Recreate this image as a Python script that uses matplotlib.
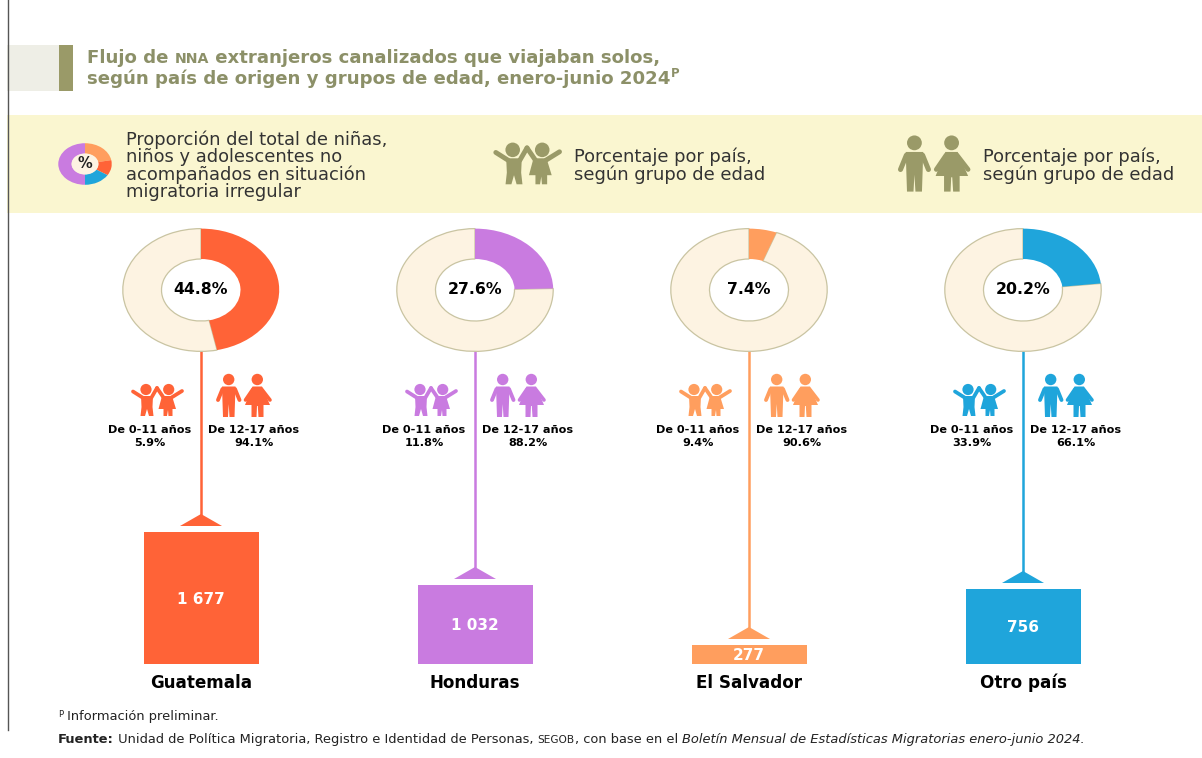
import matplotlib
matplotlib.use('Agg')
import matplotlib.pyplot as plt
from matplotlib.patches import Circle, Polygon, Rectangle

W = 1202
H = 758

paises = ['Guatemala', 'Honduras', 'El Salvador', 'Otro país']
proporcion = ['44.8%', '27.6%', '7.4%', '20.2%']
# lo que abarca cada arco en la lamina (no coincide con la etiqueta)
arco_dibujado = [46.7, 24.6, 5.7, 23.3]
etiquetas_total = ['1 677', '1 032', '277', '756']
# altura dibujada de cada barra en la lamina, no es proporcional a la etiqueta
altura_barra = [132, 79, 19, 75]
pct_0_11 = ['5.9%', '11.8%', '9.4%', '33.9%']
pct_12_17 = ['94.1%', '88.2%', '90.6%', '66.1%']
# el icono de % de la leyenda
icono_pct = [22, 12, 16, 50]

colores = ['#FF6337', '#C97BE0', '#FF9E5E', '#1FA5DB']
icono_colores = ['#FF9E5E', '#FF6337', '#1FA5DB', '#C97BE0']
crema = '#FDF3E2'
banda = '#FAF6D0'
olivo = '#9A9A68'
titulo_color = '#8C9068'
texto_color = '#333333'

plt.rcParams['font.family'] = ['DejaVu Sans']

fig = plt.figure(figsize=(W / 100, H / 100), dpi=100)
ax = fig.add_axes([0, 0, 1, 1])


def py(y):
    return H - y


def dona(cx, cy, rx, ry, valores, cols, ancho):
    # la lamina original esta estirada en horizontal, por eso rx y ry son distintos
    a = fig.add_axes([(cx - rx) / W, (py(cy) - ry) / H, 2 * rx / W, 2 * ry / H])
    wedges, _ = a.pie(valores, colors=cols, radius=0.99, startangle=90, counterclock=False,
                      wedgeprops={'width': ancho, 'linewidth': 0})
    a.set_xlim(-1, 1)
    a.set_ylim(-1, 1)
    a.set_aspect('auto')
    a.axis('off')
    return a, wedges


def nino(cx, top, s, color):
    # pareja de ninos con las manos arriba, cx es el centro entre los dos
    def p(dx, dy):
        return (cx + dx * s, py(top + dy * s))

    for hx in (-11, 11.7):
        ax.add_patch(Circle(p(hx, 4.5), 5.6 * s, color=color, lw=0))
    # brazos
    for a, b in [((-24, 6.5), (-14.5, 12.5)), ((0, 3), (-5.5, 12.5)), ((0, 3), (6.5, 12.5)), ((25, 6), (14.5, 12.5))]:
        ax.plot([p(*a)[0], p(*b)[0]], [p(*a)[1], p(*b)[1]], color=color, lw=2.7 * s, solid_capstyle='round')
    # cuerpo nino
    ax.add_patch(Polygon([p(-16, 11), p(-4, 11), p(-4.5, 22), p(-3.5, 31), p(-8, 31), p(-10, 24),
                          p(-12, 31), p(-16.5, 31), p(-15.5, 22)], color=color, lw=0))
    # cuerpo nina
    ax.add_patch(Polygon([p(5, 11), p(15, 11), p(19, 24), p(15.5, 24), p(15.5, 31), p(11.5, 31), p(11, 25),
                          p(10, 31), p(6.5, 31), p(6.5, 24), p(1.5, 24)], color=color, lw=0))


def adultos(cx, top, s, color):
    # hombre y mujer, cx es el centro entre los dos
    def p(dx, dy):
        return (cx + dx * s, py(top + dy * s))

    for hx in (-14.3, 14.3):
        ax.add_patch(Circle(p(hx, 4.5), 5.7 * s, color=color, lw=0))
    # hombre
    ax.add_patch(Polygon([p(-21, 11.5), p(-7.5, 11.5), p(-8, 27), p(-8.5, 42), p(-13.5, 42), p(-14.3, 29),
                          p(-15, 42), p(-20, 42), p(-20.5, 27)], color=color, lw=0))
    for a, b in [((-20.5, 14), (-25, 25)), ((-8, 14), (-3.5, 25))]:
        ax.plot([p(*a)[0], p(*b)[0]], [p(*a)[1], p(*b)[1]], color=color, lw=2.8 * s, solid_capstyle='round')
    # mujer
    ax.add_patch(Polygon([p(9.5, 11.5), p(19, 11.5), p(27, 30), p(20.5, 30), p(20.5, 42), p(15.5, 42), p(14.8, 31),
                          p(14, 31), p(13.5, 42), p(8.5, 42), p(8.5, 30), p(2, 30)], color=color, lw=0))
    for a, b in [((10, 14), (2.5, 25)), ((18.5, 14), (27, 25))]:
        ax.plot([p(*a)[0], p(*b)[0]], [p(*a)[1], p(*b)[1]], color=color, lw=2.6 * s, solid_capstyle='round')


def renglon(x, y, partes, color):
    # escribe trozos seguidos con distinto tamano o peso en la misma linea base
    r = fig.canvas.get_renderer()
    for texto, size, weight, style, dy in partes:
        t = ax.text(x, py(y) + dy, texto, fontsize=size, fontweight=weight, fontstyle=style, color=color,
                    ha='left', va='baseline')
        x += t.get_window_extent(r).width


# fondos
ax.add_patch(Rectangle((7, py(91)), 52, 46, color='#EEEEE6', lw=0))
ax.add_patch(Rectangle((59, py(91)), 14, 46, color=olivo, lw=0))
ax.add_patch(Rectangle((7, py(213)), W - 7, 98, color=banda, lw=0))
ax.plot([7.5, 7.5], [py(730), H], color='#555555', lw=1)

# titulo
renglon(87, 63, [('Flujo de ', 13.1, 'bold', 'normal', 0), ('NNA', 10.2, 'bold', 'normal', 0),
                 (' extranjeros canalizados que viajaban solos,', 13.1, 'bold', 'normal', 0)], titulo_color)
renglon(87, 84, [('según país de origen y grupos de edad, enero-junio 2024', 13.1, 'bold', 'normal', 0),
                 ('P', 8.5, 'bold', 'normal', 7)], titulo_color)

# leyenda
a_icono, _ = dona(85, 164, 27, 21, icono_pct, icono_colores, 0.5)
a_icono.add_patch(Circle((0, 0), 0.5, color=crema, lw=0))
a_icono.text(0, 0, '%', fontsize=10.5, fontweight='bold', color='#222222', ha='center', va='center')
for y, linea in zip([140, 157, 175, 192], ['Proporción del total de niñas,', 'niños y adolescentes no',
                                           'acompañados en situación', 'migratoria irregular']):
    ax.text(126, py(y), linea, fontsize=12.9, color=texto_color, va='center')
nino(527, 144, 1.3, olivo)
adultos(933, 137, 1.3, olivo)
for x in (574, 983):
    ax.text(x, py(157), 'Porcentaje por país,', fontsize=12.9, color=texto_color, va='center')
    ax.text(x, py(175), 'según grupo de edad', fontsize=12.9, color=texto_color, va='center')

# columnas por pais
centros = [201, 475, 749, 1023]
base = py(664)
for i, cx in enumerate(centros):
    color = colores[i]
    arriba = base + altura_barra[i]
    ax.plot([cx, cx], [py(352), arriba + 18], color=color, lw=1.8, zorder=1)
    ax.add_patch(Polygon([(cx, arriba + 18), (cx - 21, arriba + 6), (cx + 21, arriba + 6)], color=color, lw=0))
    a_dona, wedges = dona(cx, 290, 79, 62, [arco_dibujado[i], 100 - arco_dibujado[i]], [color, crema], 0.49)
    wedges[0].set_zorder(3)
    wedges[1].set_edgecolor('#C9C4A2')
    wedges[1].set_linewidth(0.9)
    ax.text(cx, py(290), proporcion[i], fontsize=11.3, fontweight='bold', color='black', ha='center',
            va='center')
    nino(cx - 44, 385, 1.0, color)
    adultos(cx + 42, 375, 1.0, color)
    ax.text(cx - 51, py(430), 'De 0-11 años', fontsize=8.1, fontweight='bold', color='black', ha='center',
            va='center')
    ax.text(cx - 51, py(443), pct_0_11[i], fontsize=8.1, fontweight='bold', color='black', ha='center', va='center')
    ax.text(cx + 53, py(430), 'De 12-17 años', fontsize=8.1, fontweight='bold', color='black', ha='center',
            va='center')
    ax.text(cx + 53, py(443), pct_12_17[i], fontsize=8.1, fontweight='bold', color='black', ha='center', va='center')

ax.bar(centros, altura_barra, width=115, bottom=base, color=colores)
for i, cx in enumerate(centros):
    ax.text(cx, base + altura_barra[i] / 2 - 1, etiquetas_total[i], fontsize=11,
            fontweight='bold', color='white', ha='center', va='center')
    ax.text(cx, py(683), paises[i], fontsize=12.1, fontweight='bold', color='black', ha='center', va='center')

# notas
renglon(58, 720, [('P', 6, 'normal', 'normal', 3), (' Información preliminar.', 9.4, 'normal', 'normal', 0)], '#222222')
renglon(58, 743, [('Fuente:', 9.4, 'bold', 'normal', 0),
                  (' Unidad de Política Migratoria, Registro e Identidad de Personas, ', 9.4, 'normal', 'normal', 0),
                  ('SEGOB', 7.6, 'normal', 'normal', 0), (', con base en el ', 9.4, 'normal', 'normal', 0),
                  ('Boletín Mensual de Estadísticas Migratorias enero-junio 2024.', 9.4, 'normal', 'italic', 0)],
        '#222222')

ax.set_xlim(0, W)
ax.set_ylim(0, H)
ax.axis('off')

fig.savefig('out.png', dpi=100)
